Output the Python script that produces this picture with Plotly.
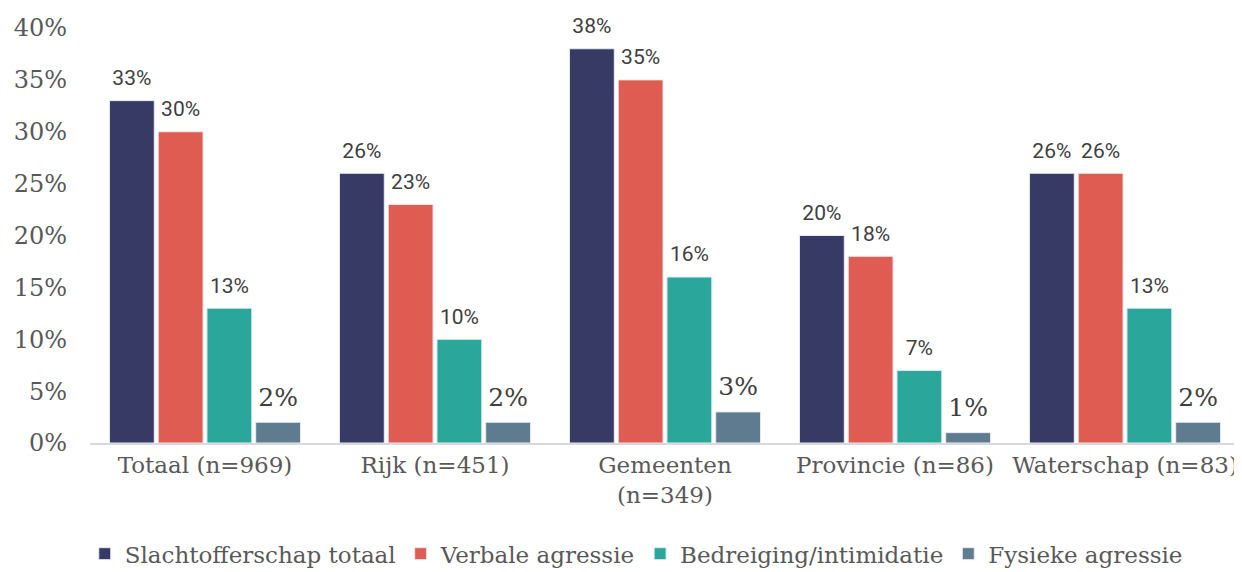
import plotly.graph_objects as go

categories = ["Totaal (n=969)", "Rijk (n=451)", "Gemeenten<br>(n=349)", "Provincie (n=86)", "Waterschap (n=83)"]
series_names = ["Slachtofferschap totaal", "Verbale agressie", "Bedreiging/intimidatie", "Fysieke agressie"]
slachtofferschap = [33, 26, 38, 20, 26]
verbale = [30, 23, 35, 18, 26]
bedreiging = [13, 10, 16, 7, 13]
fysiek = [2, 2, 3, 1, 2]
tick_vals = [0, 5, 10, 15, 20, 25, 30, 35, 40]
tick_text = ["0%", "5%", "10%", "15%", "20%", "25%", "30%", "35%", "40%"]

colors = ["#383A66", "#DE5C51", "#2BA69B", "#5E7B8F"]
serif = "DejaVu Serif"
all_values = [slachtofferschap, verbale, bedreiging, fysiek]
BARGAP = 0.152

fig = go.Figure()
for i, (name, vals) in enumerate(zip(series_names, all_values)):
    fig.add_trace(go.Bar(
        x=categories, y=vals, name=name, offsetgroup=str(i),
        marker=dict(color=colors[i], line=dict(color="#E8ECF2", width=1)),
        hoverinfo="x+y+name",
    ))
for i, (name, vals) in enumerate(zip(series_names, all_values)):
    if i == 3:
        tf = dict(family=serif, size=25, color="#404040")
    else:
        tf = dict(family="Roboto", size=21, color="#404040")
    fig.add_trace(go.Scatter(
        x=categories, y=vals, offsetgroup=str(i), mode="markers+text",
        marker=dict(size=15, opacity=0),
        text=[f"{v}%" for v in vals], textposition="top center", textfont=tf,
        showlegend=False, hoverinfo="skip", cliponaxis=False,
    ))

# page body has an 8px margin, so the figure is sized and offset for it
fig.update_layout(
    width=1234, height=564,
    margin=dict(l=82, r=2, t=20, b=129, autoexpand=False),
    paper_bgcolor="white", plot_bgcolor="white",
    barmode="group", bargap=BARGAP, bargroupgap=0.08,
    scattermode="group", scattergap=BARGAP,
    font=dict(family=serif, color="#595959"),
    showlegend=True,
    legend=dict(orientation="h", x=0.475, xanchor="center", y=-0.215, yanchor="top",
                font=dict(family=serif, size=23, color="#595959"),
                itemwidth=30, tracegroupgap=0),
)
fig.update_xaxes(showline=True, linecolor="#D9D9D9", linewidth=2, ticks="",
                 tickfont=dict(family=serif, size=23, color="#595959"),
                 showgrid=False, automargin=False)
fig.update_yaxes(range=[0, 40], tickvals=tick_vals, ticktext=tick_text,
                 showgrid=False, zeroline=False, showline=False,
                 tickfont=dict(family=serif, size=24, color="#595959"),
                 ticklabelstandoff=22, automargin=False)

fig.write_html("out.html")
